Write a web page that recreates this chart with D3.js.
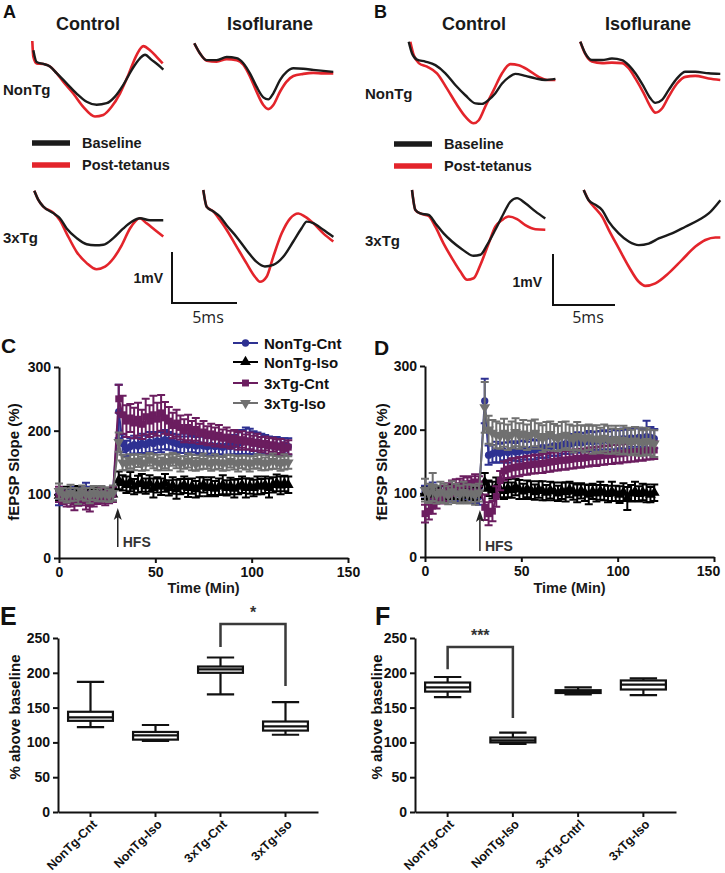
<!DOCTYPE html>
<html><head><meta charset="utf-8">
<script src="https://cdn.jsdelivr.net/npm/d3@7"></script>
<style>body{margin:0;background:#fff}svg{display:block}</style>
</head><body><svg id="fig" width="725" height="873"></svg>
<script>
// ---------------- DATA ----------------
// Field potential traces: [time (ms), amplitude (mV) relative to trace start]
const aCtlNonTgBase = [[0.08,-0.18],[0.33,-0.41],[0.85,-0.45],[1.36,-0.50],[1.87,-0.63],[2.64,-0.83],[3.41,-1.03],[4.18,-1.19],[4.95,-1.25],[5.72,-1.22],[6.36,-1.09],[7.0,-0.86],[7.64,-0.57],[8.28,-0.34],[8.67,-0.27],[9.18,-0.37],[9.69,-0.47],[10.08,-0.56]];
const aCtlNonTgPost = [[0,0],[0.08,-0.31],[0.33,-0.44],[0.85,-0.45],[1.36,-0.50],[1.87,-0.63],[2.38,-0.80],[3.15,-1.03],[3.92,-1.29],[4.82,-1.48],[5.46,-1.45],[6.10,-1.29],[6.74,-1.03],[7.38,-0.67],[8.03,-0.27],[8.54,-0.10],[9.05,-0.18],[9.56,-0.31],[10.03,-0.44]];
const aIsoNonTgBase = [[0,0],[0.44,-0.20],[0.95,-0.33],[1.72,-0.33],[2.49,-0.27],[3.26,-0.29],[3.77,-0.39],[4.28,-0.59],[4.79,-0.85],[5.31,-1.06],[5.69,-1.10],[6.08,-0.98],[6.59,-0.72],[7.10,-0.56],[7.62,-0.49],[8.38,-0.50],[9.15,-0.52],[9.92,-0.54],[10.69,-0.56]];
const aIsoNonTgPost = [[0,0],[0.44,-0.20],[0.95,-0.34],[1.72,-0.36],[2.49,-0.31],[3.26,-0.33],[3.77,-0.42],[4.28,-0.65],[4.79,-0.95],[5.31,-1.21],[5.69,-1.29],[6.08,-1.21],[6.59,-0.95],[7.10,-0.75],[7.62,-0.64],[8.38,-0.60],[9.15,-0.58],[9.92,-0.59],[10.69,-0.59]];
const aCtl3xTgBase = [[0,0],[0.31,-0.18],[0.69,-0.31],[1.46,-0.44],[1.97,-0.54],[2.49,-0.74],[3.26,-0.93],[4.03,-1.05],[4.67,-1.07],[5.31,-1.06],[6.08,-0.93],[6.85,-0.74],[7.49,-0.61],[8.13,-0.54],[8.90,-0.58],[9.92,-0.58]];
const aCtl3xTgPost = [[0,0],[0.31,-0.18],[0.69,-0.31],[1.46,-0.43],[1.97,-0.58],[2.49,-0.84],[3.26,-1.20],[4.03,-1.42],[4.79,-1.54],[5.44,-1.49],[6.08,-1.33],[6.72,-1.07],[7.36,-0.74],[8.13,-0.54],[8.64,-0.64],[9.28,-0.77],[9.92,-0.90]];
const aIso3xTgBase = [[0,0],[0.26,-0.33],[0.77,-0.42],[1.28,-0.52],[1.79,-0.69],[2.56,-0.92],[3.33,-1.18],[4.10,-1.41],[4.74,-1.50],[5.38,-1.47],[6.15,-1.31],[6.92,-1.01],[7.56,-0.75],[7.95,-0.62],[8.46,-0.65],[9.23,-0.78],[10.0,-0.92]];
const aIso3xTgPost = [[0,0],[0.26,-0.33],[0.77,-0.42],[1.28,-0.59],[1.79,-0.78],[2.56,-1.11],[3.33,-1.44],[3.97,-1.70],[4.36,-1.80],[4.87,-1.70],[5.38,-1.31],[6.03,-0.85],[6.67,-0.56],[7.31,-0.46],[7.82,-0.52],[8.46,-0.65],[9.23,-0.85],[10.0,-1.01]];
const bCtlNonTgBase = [[0,0],[0.27,-0.23],[0.67,-0.35],[1.34,-0.39],[2.15,-0.46],[2.96,-0.62],[3.76,-0.85],[4.57,-1.05],[5.38,-1.21],[5.91,-1.22],[6.45,-1.14],[6.99,-1.01],[7.53,-0.82],[8.06,-0.70],[8.60,-0.63],[9.41,-0.67],[10.22,-0.72],[11.02,-0.75],[11.83,-0.73]];
const bCtlNonTgPost = [[0.13,0],[0.40,-0.26],[0.81,-0.42],[1.48,-0.49],[2.28,-0.62],[3.09,-0.92],[3.90,-1.24],[4.57,-1.47],[5.24,-1.60],[5.65,-1.54],[6.18,-1.27],[6.85,-0.95],[7.53,-0.62],[8.20,-0.44],[8.87,-0.46],[9.68,-0.56],[10.48,-0.69],[11.16,-0.75],[11.83,-0.75]];
const bIsoNonTgBase = [[0,0],[0.40,-0.23],[0.94,-0.36],[1.75,-0.36],[2.55,-0.33],[3.36,-0.36],[3.90,-0.46],[4.44,-0.62],[5.11,-0.88],[5.65,-1.11],[6.05,-1.20],[6.59,-1.14],[7.12,-0.95],[7.80,-0.72],[8.47,-0.59],[9.27,-0.59],[10.35,-0.62],[11.29,-0.63]];
const bIsoNonTgPost = [[0,0],[0.40,-0.24],[0.94,-0.39],[1.75,-0.42],[2.55,-0.41],[3.36,-0.42],[3.90,-0.52],[4.44,-0.72],[5.11,-1.01],[5.65,-1.27],[6.05,-1.39],[6.59,-1.31],[7.12,-1.08],[7.80,-0.82],[8.47,-0.69],[9.27,-0.67],[10.35,-0.72],[11.29,-0.75]];
const bCtl3xTgBase = [[0,0],[0.27,-0.39],[0.67,-0.46],[1.34,-0.49],[1.88,-0.65],[2.55,-0.85],[3.23,-1.01],[4.03,-1.16],[4.97,-1.29],[5.51,-1.27],[6.05,-1.08],[6.72,-0.78],[7.39,-0.46],[7.93,-0.23],[8.47,-0.16],[9.14,-0.26],[9.95,-0.42],[10.75,-0.56]];
const bCtl3xTgPost = [[0,0],[0.27,-0.39],[0.67,-0.46],[1.34,-0.51],[1.88,-0.72],[2.55,-1.05],[3.23,-1.34],[3.90,-1.60],[4.44,-1.76],[4.97,-1.73],[5.51,-1.47],[6.18,-1.05],[6.72,-0.72],[7.26,-0.59],[7.80,-0.52],[8.47,-0.57],[9.14,-0.69],[9.95,-0.77],[10.75,-0.78]];
const bIso3xTgBase = [[0,0],[0.40,-0.20],[0.94,-0.29],[1.48,-0.39],[2.02,-0.62],[2.82,-0.85],[3.63,-1.01],[4.44,-1.08],[5.24,-1.05],[6.05,-0.95],[7.12,-0.85],[8.20,-0.72],[9.27,-0.59],[10.08,-0.46],[11.02,-0.20]];
const bIso3xTgPost = [[0,0],[0.40,-0.20],[0.94,-0.36],[1.48,-0.52],[2.02,-0.78],[2.82,-1.14],[3.63,-1.50],[4.44,-1.80],[4.97,-1.88],[5.78,-1.83],[6.85,-1.63],[7.93,-1.37],[9.01,-1.11],[9.81,-0.98],[10.62,-0.93],[11.02,-0.93]];

// LTP time course (min) and fEPSP slope (%) mean / SEM
const timeMin = [0,2,4,6,8,10,12,14,16,18,20,22,24,26,28,
 31,33,35,37,39,41,43,45,47,49,51,53,55,57,59,61,63,65,67,69,71,73,75,77,79,81,83,85,87,89,91,93,95,97,99,101,103,105,107,109,111,113,115,117,119];
const seriesNames = ["NonTg-Cnt","NonTg-Iso","3xTg-Cnt","3xTg-Iso"];
const hfsC = 30.5, hfsD = 28.5;

const cNonTgCnt = [92,95,97,99,100,98,102,104,101,99,100,102,100,98,101,
 230,180,172,175,178,176,180,178,182,180,184,182,186,184,182,180,178,180,177,179,176,178,176,175,177,175,176,174,176,175,178,180,182,184,183,181,180,179,178,177,176,176,175,176,175];
const cNonTgCntErr = [9,8,10,8,12,10,9,14,11,10,12,10,9,10,11,
 42,14,12,13,14,13,15,14,16,15,14,16,15,14,13,14,13,15,14,13,14,13,15,14,13,14,13,15,14,13,15,17,19,21,20,18,17,16,15,14,13,14,13,12,13];
const cNonTgIso = [98,100,102,97,100,103,99,101,98,100,102,99,100,98,100,
 122,118,115,120,112,116,118,113,117,110,115,112,118,110,114,108,112,115,110,113,108,112,115,110,113,109,112,115,110,113,109,112,115,110,113,110,114,112,115,110,115,118,114,117,115];
const cNonTgIsoErr = [8,9,10,8,9,10,8,9,10,8,9,10,8,9,10,
 14,12,13,15,12,13,14,12,13,15,12,13,14,12,13,15,12,13,14,12,13,15,12,13,14,12,13,15,12,13,14,12,13,15,12,13,14,12,13,15,12,13,14,12,13];
const c3xTgCnt = [100,95,92,90,88,92,95,90,85,92,95,98,94,96,100,
 250,225,215,220,212,218,210,222,215,225,218,228,220,215,208,212,205,200,205,198,202,195,198,192,195,190,193,188,190,186,188,184,186,182,184,180,182,178,180,176,178,174,176,172,174];
const c3xTgCntErr = [12,10,11,9,13,10,12,14,12,11,10,12,11,10,12,
 22,30,25,22,24,26,23,28,25,30,26,28,25,22,20,21,19,18,20,17,18,16,17,15,16,15,16,14,15,14,13,14,13,12,13,12,13,12,11,12,11,12,11,10,11];
const c3xTgIso = [105,100,98,102,100,97,103,100,98,102,99,101,100,98,102,
 182,150,148,152,150,153,148,150,155,152,150,148,152,150,155,152,148,150,153,150,147,150,152,150,148,151,150,148,150,152,150,148,151,150,148,150,152,150,148,150,152,150,148,151,150];
const c3xTgIsoErr = [12,10,11,13,10,12,11,10,12,11,10,12,11,10,12,
 15,12,10,11,12,10,11,12,10,11,12,10,11,12,10,11,12,10,11,12,10,11,12,10,11,12,10,11,12,10,11,12,10,11,12,10,11,12,10,11,12,10,11,12,10];

const dNonTgCnt = [102,100,105,98,100,102,97,99,101,98,100,96,99,97,95,
 245,160,162,165,163,166,164,167,165,166,168,167,169,168,170,172,171,173,175,174,176,178,177,179,180,179,181,182,181,183,182,184,183,185,184,185,186,185,187,186,188,187,189,188,186];
const dNonTgCntErr = [10,9,12,10,11,9,10,12,11,10,9,11,10,12,13,
 35,15,14,16,15,14,16,15,14,16,15,14,16,15,14,16,15,14,16,15,14,16,15,14,16,15,14,16,15,14,16,15,14,16,15,14,16,15,14,16,15,14,25,16,15];
const dNonTgIso = [100,98,102,99,101,97,100,103,99,100,98,101,100,99,102,
 118,108,105,110,106,104,108,105,110,106,103,107,105,102,106,104,101,105,103,100,104,102,106,103,100,104,101,98,103,100,104,101,99,103,100,98,102,92,100,103,99,102,100,98,101];
const dNonTgIsoErr = [9,10,8,9,10,8,9,10,8,9,10,8,9,10,8,
 14,12,13,15,12,13,14,12,13,15,12,13,14,12,13,15,12,13,14,12,13,15,12,13,14,12,13,15,12,13,14,12,13,15,12,13,14,18,13,15,12,13,14,12,13];
const d3xTgCnt = [68,72,80,88,95,100,105,108,110,112,115,113,116,118,115,
 78,68,72,95,120,135,138,140,141,142,143,144,145,146,146,147,148,149,150,151,152,152,153,154,155,155,156,157,158,158,159,160,160,161,162,162,163,164,164,165,166,166,167,168,168];
const d3xTgCntErr = [14,13,12,12,11,12,11,12,12,11,12,12,11,12,12,
 20,18,16,16,15,15,14,15,14,15,14,15,14,15,14,15,14,15,14,15,14,15,14,15,14,15,14,15,14,15,14,15,14,15,14,15,14,15,14,15,14,15,14,15,14];
const d3xTgIso = [105,100,110,98,102,100,97,103,100,98,102,99,100,97,101,
 235,200,195,192,190,195,188,192,196,190,194,188,192,195,190,186,190,193,188,186,190,192,188,185,190,187,185,188,184,186,183,187,184,182,185,181,184,182,180,183,181,179,182,180,178];
const d3xTgIsoErr = [18,15,22,14,16,15,14,16,15,14,16,15,14,15,14,
 40,22,20,21,20,22,20,21,22,20,21,20,22,21,20,21,22,20,21,20,22,21,20,21,22,20,21,20,22,21,20,21,22,20,21,20,22,21,20,21,22,20,21,20,21];

// Box plots: [min, Q1, median, Q3, max] (% above baseline)
const eCategories = ["NonTg-Cnt","NonTg-Iso","3xTg-Cnt","3xTg-Iso"];
const eBoxes = [[122,131,136,144,187],[102,104,110,115,125],[169,200,205,209,222],[111,117,123,130,158]];
const fCategories = ["NonTg-Cnt","NonTg-Iso","3xTg-Cntrl","3xTg-Iso"];
const fBoxes = [[165,173,179,186,194],[98,100,103,107,114],[169,171,173,175,179],[168,176,183,189,192]];
const eSig = {from:2, to:3, top:270, left:237, right:181, label:"*"};
const fSig = {from:0, to:1, top:237, left:205, right:135, label:"***"};
const boxTicks = [0,50,100,150,200,250];
const slopeTicks = [0,100,200,300];
const timeTicks = [0,50,100,150];

// ---------------- DRAWING ----------------
const FONT = '"Liberation Sans", Arial, Helvetica, sans-serif';
const svg = d3.select("#fig");
svg.append("rect").attr("width",725).attr("height",873).attr("fill","#fff");
const RED = "#e3242b", BLK = "#1b1b1b";
const colors = {"NonTg-Cnt":"#2e3192","NonTg-Iso":"#000000","3xTg-Cnt":"#6b1d5f","3xTg-Iso":"#707070"};
const symbols = {"NonTg-Cnt":[d3.symbolCircle,42,0],"NonTg-Iso":[d3.symbolTriangle,50,0],"3xTg-Cnt":[d3.symbolSquare,48,0],"3xTg-Iso":[d3.symbolTriangle,50,180]};

function txt(x,y,s,size,opts={}){
  return svg.append("text").attr("x",x).attr("y",y).text(s)
    .attr("font-family",opts.family||FONT).attr("font-size",size)
    .attr("font-weight",opts.weight||"bold").attr("fill",opts.fill||"#1a1a1a")
    .attr("text-anchor",opts.anchor||"start");
}

// ---- Panels A & B : traces ----
function drawTrace(ox, oy, pxPerMs, base, post){
  const x = d3.scaleLinear().domain([0,1]).range([ox, ox+pxPerMs]);
  const y = d3.scaleLinear().domain([0,-1]).range([oy, oy+51]);
  const line = d3.line().x(d=>x(d[0])).y(d=>y(d[1])).curve(d3.curveMonotoneX);
  svg.append("path").attr("d",line(post)).attr("fill","none").attr("stroke",RED).attr("stroke-width",2.6).attr("stroke-linejoin","round");
  svg.append("path").attr("d",line(base)).attr("fill","none").attr("stroke",BLK).attr("stroke-width",2.4).attr("stroke-linejoin","round");
}
const traceLayout = [
  [32.3,41,13,aCtlNonTgBase,aCtlNonTgPost],[194.3,43.3,13,aIsoNonTgBase,aIsoNonTgPost],
  [34.3,190.7,13,aCtl3xTgBase,aCtl3xTgPost],[203.3,190,13,aIso3xTgBase,aIso3xTgPost],
  [408.7,41.7,12.4,bCtlNonTgBase,bCtlNonTgPost],[580.3,41.7,12.4,bIsoNonTgBase,bIsoNonTgPost],
  [412,190,12.4,bCtl3xTgBase,bCtl3xTgPost],[583.7,190,12.4,bIso3xTgBase,bIso3xTgPost]
];
traceLayout.forEach(t=>drawTrace(...t));

function traceLabels(dx, letterX, ctlX, isoX, nonY, tgY, legY, barX, barY, msPx, mvX, mvY, msX){
  txt(letterX,18,dx===0?"A":"B",18,{fill:"#111"});
  txt(ctlX,30,"Control",18,{anchor:"middle"});
  txt(isoX,30,"Isoflurane",18,{anchor:"middle"});
  txt(dx+3,nonY,"NonTg",15);
  txt(dx+3,tgY,"3xTg",15);
  svg.append("line").attr("x1",dx+32).attr("x2",dx+70).attr("y1",legY).attr("y2",legY).attr("stroke",BLK).attr("stroke-width",5.5);
  svg.append("line").attr("x1",dx+32).attr("x2",dx+70).attr("y1",legY+22).attr("y2",legY+22).attr("stroke",RED).attr("stroke-width",5.5);
  txt(dx+82,legY+5,"Baseline",14.5);
  txt(dx+82,legY+27,"Post-tetanus",14.5);
  // scale bar (1 mV = 51 px)
  svg.append("path").attr("d",`M${barX},${barY}V${barY+51}H${barX+msPx}`).attr("fill","none").attr("stroke","#111").attr("stroke-width",2);
  txt(mvX,mvY,"1mV",14,{anchor:"end"});
  txt(msX,323,"5ms",16,{anchor:"middle",weight:"normal",family:'"Open Sans", sans-serif',fill:"#222"});
}
traceLabels(0,3,88,270,95,243,143,172,252,65,163,283,208);
traceLabels(362,374,474,648,99,246,144,553,254,62,542,287,588);

// ---- Panels C & D : LTP time course ----
function styleAxis(g){
  g.attr("font-family",FONT).attr("font-size",14).attr("font-weight","bold");
  g.select(".domain").attr("stroke-width",2).attr("stroke","#111");
  g.selectAll(".tick line").attr("stroke-width",2).attr("stroke","#111");
  g.selectAll(".tick text").attr("fill","#111");
}
function drawLTP(cfg){
  const x = d3.scaleLinear().domain([0,150]).range([cfg.x0,cfg.x1]);
  const y = d3.scaleLinear().domain([0,300]).range([cfg.y0,cfg.y1]);
  const gx = svg.append("g").attr("transform",`translate(0,${cfg.y0})`).call(d3.axisBottom(x).tickValues(timeTicks).tickSize(5).tickSizeOuter(0).tickPadding(4));
  const gy = svg.append("g").attr("transform",`translate(${cfg.x0},0)`).call(d3.axisLeft(y).tickValues(slopeTicks).tickSize(5).tickSizeOuter(0).tickPadding(3));
  styleAxis(gx); styleAxis(gy);
  if (cfg.lastShift) gx.selectAll(".tick text").filter(d=>d===150).attr("dx",cfg.lastShift);
  cfg.series.forEach(([name,vals,errs])=>{
    const col = colors[name];
    const g = svg.append("g");
    timeMin.forEach((t,i)=>{
      const xx = x(t), lo = y(vals[i]-errs[i]), hi = y(vals[i]+errs[i]);
      g.append("path").attr("d",`M${xx},${lo}V${hi}M${xx-4},${hi}H${xx+4}M${xx-4},${lo}H${xx+4}`)
        .attr("stroke",col).attr("stroke-width",2).attr("fill","none");
    });
    g.append("path").attr("d",d3.line().x((d,i)=>x(timeMin[i])).y(d=>y(d))(vals)).attr("fill","none").attr("stroke",col).attr("stroke-width",2);
    const [sym,sz,rot] = symbols[name];
    timeMin.forEach((t,i)=>{
      g.append("path").attr("d",d3.symbol(sym,sz)()).attr("fill",col)
        .attr("transform",`translate(${x(t)},${y(vals[i])}) rotate(${rot})`);
    });
  });
  // HFS arrow
  const ax = x(cfg.hfs);
  svg.append("line").attr("x1",ax).attr("x2",ax).attr("y1",cfg.arrowBottom).attr("y2",cfg.arrowTop+8).attr("stroke","#222").attr("stroke-width",1.5);
  svg.append("path").attr("d",`M${ax},${cfg.arrowTop}L${ax-4},${cfg.arrowTop+12}L${ax},${cfg.arrowTop+9}L${ax+4},${cfg.arrowTop+12}Z`).attr("fill","#222");
  txt(ax+5,cfg.arrowBottom,"HFS",14,{fill:"#333"});
  // titles
  txt((cfg.x0+cfg.x1)/2,593,"Time (Min)",14.5,{anchor:"middle"});
  svg.append("text").attr("transform",`translate(${cfg.yTitleX},462) rotate(-90)`).attr("text-anchor","middle")
    .attr("font-family",FONT).attr("font-size",15).attr("font-weight","bold").attr("fill","#111").text("fEPSP Slope (%)");
  txt(cfg.letterX,cfg.letterY,cfg.letter,21,{fill:"#111"});
}
drawLTP({x0:59,x1:348,y0:558,y1:367,hfs:hfsC,arrowTop:508,arrowBottom:547,yTitleX:19,letter:"C",letterX:1,letterY:353,
  series:[["NonTg-Cnt",cNonTgCnt,cNonTgCntErr],["NonTg-Iso",cNonTgIso,cNonTgIsoErr],["3xTg-Cnt",c3xTgCnt,c3xTgCntErr],["3xTg-Iso",c3xTgIso,c3xTgIsoErr]]});
drawLTP({x0:425,x1:714,y0:557,y1:366,hfs:hfsD,arrowTop:510,arrowBottom:551,yTitleX:387,letter:"D",letterX:374,letterY:355,lastShift:-6,
  series:[["NonTg-Cnt",dNonTgCnt,dNonTgCntErr],["NonTg-Iso",dNonTgIso,dNonTgIsoErr],["3xTg-Cnt",d3xTgCnt,d3xTgCntErr],["3xTg-Iso",d3xTgIso,d3xTgIsoErr]]});

// legend for C
seriesNames.forEach((name,i)=>{
  const yy = [343,362,383,403][i], col = colors[name];
  svg.append("line").attr("x1",233).attr("x2",258).attr("y1",yy).attr("y2",yy).attr("stroke",col).attr("stroke-width",2);
  const [sym,sz,rot] = symbols[name];
  svg.append("path").attr("d",d3.symbol(sym,sz)()).attr("fill",col).attr("transform",`translate(245.5,${yy}) rotate(${rot})`);
  txt(264,yy+5.5,name,15,{fill:"#111"});
});

// ---- Panels E & F : box plots ----
function drawBox(cfg){
  const x = d3.scaleBand().domain(cfg.cats).range([cfg.x0,cfg.x1]);
  const y = d3.scaleLinear().domain([0,250]).range([812,638]);
  const gx = svg.append("g").attr("transform","translate(0,812)").call(d3.axisBottom(x).tickSize(5).tickSizeOuter(0));
  const gy = svg.append("g").attr("transform",`translate(${cfg.x0},0)`).call(d3.axisLeft(y).tickValues(boxTicks).tickSize(5).tickSizeOuter(0).tickPadding(3));
  styleAxis(gx); styleAxis(gy);
  gx.selectAll(".tick text").attr("x",0).attr("y",0).attr("dy","0.35em").attr("text-anchor","end")
    .attr("transform","translate(4,10) rotate(-45)").attr("font-size",12.5);
  const bw = x.bandwidth()*0.69, cw = x.bandwidth()*0.42;
  cfg.boxes.forEach((b,i)=>{
    const cx = x(cfg.cats[i]) + x.bandwidth()/2;
    const g = svg.append("g").attr("stroke","#111").attr("stroke-width",2.2).attr("fill","none");
    g.append("path").attr("d",`M${cx},${y(b[0])}V${y(b[1])}M${cx},${y(b[3])}V${y(b[4])}M${cx-cw/2},${y(b[0])}H${cx+cw/2}M${cx-cw/2},${y(b[4])}H${cx+cw/2}`);
    g.append("rect").attr("x",cx-bw/2).attr("y",y(b[3])).attr("width",bw).attr("height",y(b[1])-y(b[3])).attr("fill","#fff");
    g.append("line").attr("x1",cx-bw/2).attr("x2",cx+bw/2).attr("y1",y(b[2])).attr("y2",y(b[2]));
  });
  const s = cfg.sig;
  const xa = x(cfg.cats[s.from])+x.bandwidth()/2, xb = x(cfg.cats[s.to])+x.bandwidth()/2;
  svg.append("path").attr("d",`M${xa},${y(s.left)}V${y(s.top)}H${xb}V${y(s.right)}`).attr("fill","none").attr("stroke","#3a3a3a").attr("stroke-width",2.5);
  txt((xa+xb)/2,y(s.top)-6,s.label,16,{anchor:"middle",fill:"#333"});
  svg.append("text").attr("transform",`translate(${cfg.yTitleX},717) rotate(-90)`).attr("text-anchor","middle")
    .attr("font-family",FONT).attr("font-size",15).attr("font-weight","bold").attr("fill","#111").text("% above baseline");
  txt(cfg.letterX,625,cfg.letter,25,{fill:"#111"});
}
drawBox({cats:eCategories,boxes:eBoxes,x0:58,x1:318,sig:eSig,yTitleX:20,letter:"E",letterX:0});
drawBox({cats:fCategories,boxes:fBoxes,x0:415,x1:676,sig:fSig,yTitleX:382,letter:"F",letterX:375});
</script></body></html>
